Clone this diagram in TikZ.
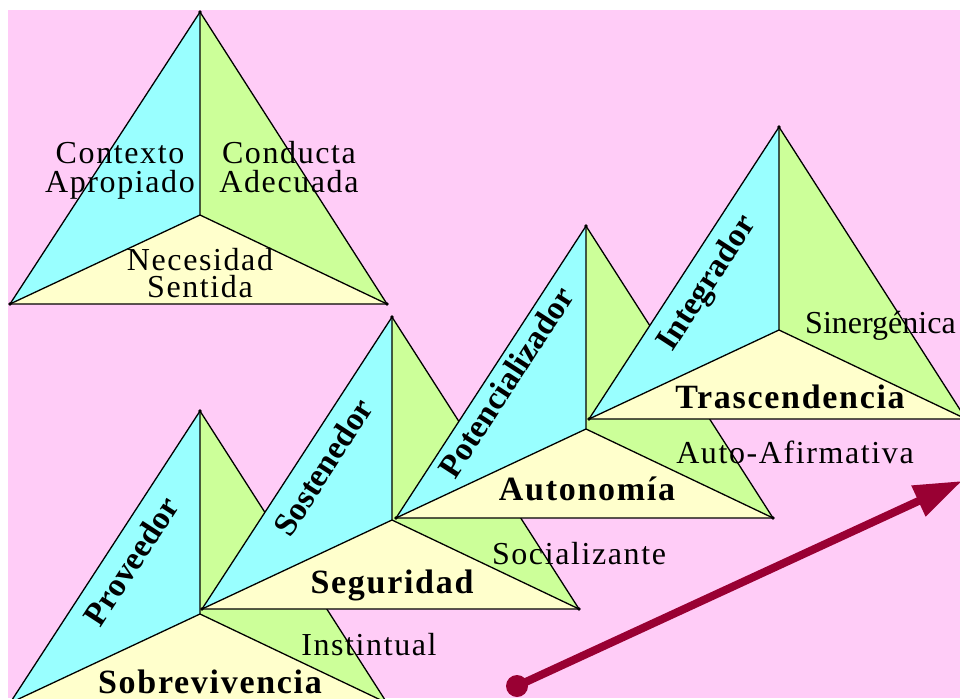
\documentclass[tikz,border=0pt]{standalone}
\usepackage{fontspec}
\setmainfont{Liberation Serif}
\newfontfamily\lsfont[LetterSpace=5]{Liberation Serif}
\usetikzlibrary{arrows.meta}
\definecolor{bgpink}{RGB}{255,204,247}
\definecolor{facecyan}{RGB}{153,255,255}
\definecolor{facegreen}{RGB}{204,255,153}
\definecolor{faceyellow}{RGB}{255,255,204}
\definecolor{arrowred}{RGB}{153,0,51}
\tikzset{
  edge/.style={draw=black,line width=1.3pt,line join=round},
  biglbl/.style={font=\lsfont\fontsize{34}{34}\selectfont\bfseries,inner sep=0pt,anchor=base},
  smalllbl/.style={font=\lsfont\fontsize{32}{29}\selectfont,inner sep=0pt,anchor=base,align=center},
  rotlbl/.style={font=\fontsize{33}{33}\selectfont\bfseries,inner sep=0pt,rotate=57},
  arrowline/.style={draw=arrowred,line width=8pt,-{Triangle[length=48pt,width=32pt]}},
}
\begin{document}
\begin{tikzpicture}[x=1pt,y=-1pt]
\useasboundingbox (0,0) rectangle (960,698);
\fill[white] (0,0) rectangle (960,698);
\begin{scope}
\clip (8,10) rectangle (960,698);
\fill[bgpink] (8,10) rectangle (960,698);
\foreach \n/\ax/\ay in {T0/200/12, T1/200/411, T2/392/317, T3/586/226, T4/779/127} {
  \coordinate (\n A) at (\ax,\ay);
  \coordinate (\n L) at (\ax-190,\ay+292);
  \coordinate (\n R) at (\ax+187,\ay+292);
  \coordinate (\n C) at (\ax,\ay+203);
  \fill[facecyan] (\n L) -- (\n A) -- (\n C) -- cycle;
  \fill[facegreen] (\n A) -- (\n R) -- (\n C) -- cycle;
  \fill[faceyellow] (\n L) -- (\n C) -- (\n R) -- cycle;
  \draw[edge] (\n L) -- (\n A) -- (\n R) -- cycle;
  \draw[edge] (\n A) -- (\n C) (\n L) -- (\n C) -- (\n R);
  \fill (\n A) circle (1.8pt) (\n L) circle (1.8pt) (\n R) circle (1.8pt);
}
% top triangle labels (anchor base = last line)
\node[smalllbl] (ctx) at (120,192) {Contexto\\Apropiado};
\node[smalllbl] (cond) at (289,192) {Conducta\\Adecuada};
\node[smalllbl,font=\lsfont\fontsize{32}{27}\selectfont] (nec) at (200,297) {Necesidad\\Sentida};
% rotated labels
\node[rotlbl] (prov) at (131,561) {Proveedor};
\node[rotlbl] (sost) at (323,467) {Sostenedor};
\node[rotlbl] (pot) at (506,382) {Potencializador};
\node[rotlbl] (integ) at (708,284) {Integrador};
% bottom labels
\node[biglbl] (sobr) at (210,693) {Sobrevivencia};
\node[biglbl] (seg) at (392,593) {Seguridad};
\node[biglbl] (auto) at (587,500) {Autonomía};
\node[biglbl] (tras) at (790,408) {Trascendencia};
% side labels
\node[smalllbl] (inst) at (369,655) {Instintual};
\node[smalllbl] (soc) at (579,564) {Socializante};
\node[smalllbl] (afir) at (795,463) {Auto-Afirmativa};
\node[smalllbl,font=\fontsize{32}{29}\selectfont,anchor=base west] (siner) at (805,333) {Sinergénica};
% arrow
\coordinate (arrS) at (517,686);
\coordinate (arrE) at (962,481);
\draw[arrowline] (arrS) -- (arrE);
\fill[arrowred] (arrS) circle (11pt);
\end{scope}
\end{tikzpicture}
\end{document}
